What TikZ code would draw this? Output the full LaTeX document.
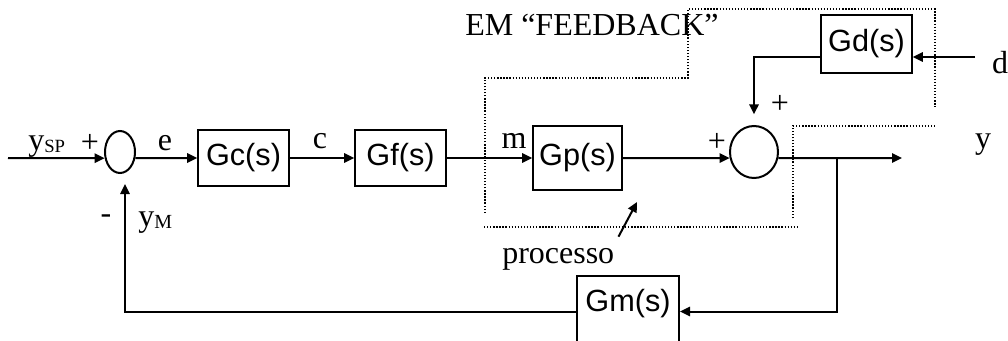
\documentclass[tikz,border=0pt]{standalone}
\usepackage{fontspec}
\setmainfont{Liberation Serif}
\setsansfont{Liberation Sans}
\usetikzlibrary{positioning, shapes.geometric, arrows.meta}

\begin{document}
\begin{tikzpicture}[
  x=0.75pt, y=-0.75pt,
  font=\fontsize{24}{28}\selectfont,
  block/.style={rectangle, draw, line width=1.5pt, inner sep=0pt, font=\sffamily\fontsize{23}{27}\selectfont},
  sum/.style={ellipse, draw, line width=1.5pt, inner sep=0pt},
  sig/.style={-{Triangle[length=7.5pt, width=7pt]}, line width=1.5pt},
  procbox/.style={line width=1pt, dash pattern=on 1pt off 1.3pt},
]
\useasboundingbox (0,0) rectangle (1008,340);

% blocks
\node[block, minimum width=68pt, minimum height=42pt] (gc) at (243.5,158) {Gc(s)};
\node[block, minimum width=68pt, minimum height=42pt] (gf) at (400.5,158) {Gf(s)};
\node[block, minimum width=66.5pt, minimum height=48.5pt] (gp) at (577.5,158) {Gp(s)};
\node[block, minimum width=68pt, minimum height=43.5pt] (gd) at (866.5,44) {Gd(s)};
\node[block, anchor=north, minimum width=76.5pt, text height=26.25pt, text depth=27pt] (gm) at (628,275) {Gm(s)};

% summing junctions
\node[sum, minimum width=22.5pt, minimum height=31.5pt] (s1) at (120,152) {};
\node[sum, minimum width=36pt, minimum height=39pt] (s2) at (754,152) {};

\coordinate (ysp) at (8,158);
\coordinate (yout) at (902,158);
\coordinate (br) at (837,158);
\coordinate (din) at (975,57);
\coordinate (ptip) at (637,202);

% labels
\node[anchor=base west, inner sep=0pt] (lysp) at (28,150) {y\raisebox{-1.5pt}{\fontsize{14}{14}\selectfont SP}};
\node (lp1) at (90,143) {+};
\node[anchor=base] (le) at (165,150) {e};
\node[anchor=base] (lc) at (320,148) {c};
\node[anchor=base] (lm) at (514,148) {m};
\node (lp2) at (717,142) {+};
\node (lp3) at (780,104) {+};
\node (lneg) at (106,219) {-};
\node[anchor=base west, inner sep=0pt] (lym) at (138,226) {y\raisebox{-1.5pt}{\fontsize{15}{15}\selectfont M}};
\node[anchor=base] (ly) at (983,148) {y};
\node[anchor=base] (ld) at (1000,73) {d};
\node[anchor=base west, inner sep=0pt] (lfb) at (465,35) {EM “FEEDBACK”};
\node[anchor=base west, inner sep=0pt] (proc) at (502,263) {processo};

% process outline
\draw[procbox] (485,213) -- (485,78) -- (688,78) -- (688,9) -- (935,9) -- (935,107);
\draw[procbox] (793,218) -- (793,126) -- (935,126);
\draw[procbox] (484,227) -- (798,227);

% signals
\draw[sig] (ysp) -- (s1.202);
\draw[sig] (s1.338) -- (gc.west);
\draw[sig] (gc.east) -- (gf.west);
\draw[sig] (gf.east) -- (gp.west);
\draw[sig] (gp.east) -- (s2.194);
\draw[sig] (s2.346) -- (yout);
\draw[sig] (br) |- (gm.east);
\draw[sig, shorten >=7.5pt] (gm.west) -| ([xshift=3.75pt]s1.south);
\draw[sig] (din) -- (din -| gd.east);
\draw[sig, shorten >=8pt] (din -| gd.west) -| (s2.north);
\draw[sig] ([shift={(4,-11)}]proc.north east) -- (ptip);
\end{tikzpicture}
\end{document}
